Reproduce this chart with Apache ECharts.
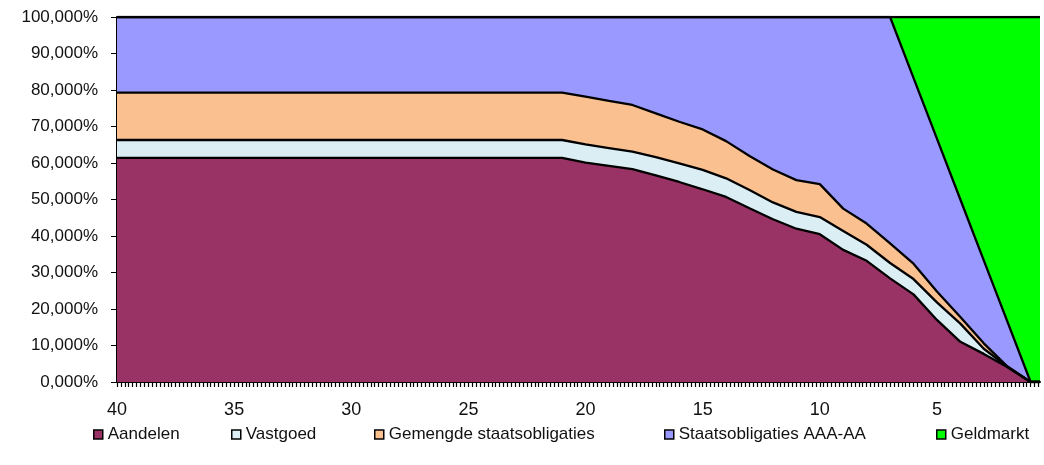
<!DOCTYPE html>
<html>
<head>
<meta charset="utf-8">
<script src="https://cdn.jsdelivr.net/npm/echarts@6.0.0/dist/echarts.min.js"></script>
<style>
  html, body { margin: 0; padding: 0; background: #fff; }
  #main { width: 1044px; height: 465px; }
</style>
</head>
<body>
<div id="main"></div>
<script>
// years to go (x axis runs from 40 down)
var years     = [40, 21, 20, 19, 18, 17, 16, 15, 14, 13, 12, 11, 10, 9, 8, 7, 6, 5, 4, 3, 2, 1, 0.6];
var aandelen  = [61.4, 61.4, 60.1, 59.2, 58.3, 56.6, 54.8, 52.8, 50.7, 47.6, 44.6, 42.0, 40.5, 36.2, 33.2, 28.4, 24.0, 17.0, 11.0, 7.7, 4.1, 0, 0];
var vastgoed  = [4.9, 4.9, 5.0, 4.9, 4.8, 5.0, 5.1, 5.3, 5.1, 5.0, 4.6, 4.6, 4.7, 5.2, 4.4, 4.2, 4.2, 4.8, 5.0, 1.4, 0.1, 0, 0];
var gemengde  = [13.0, 13.0, 13.1, 12.9, 12.8, 12.0, 11.4, 11.1, 10.2, 9.3, 9.0, 8.7, 9.0, 6.1, 5.8, 5.4, 4.2, 3.0, 1.8, 1.5, 0.1, 0, 0];
var staats    = [20.7, 20.7, 21.8, 23.0, 24.1, 26.4, 28.7, 30.8, 34.0, 38.1, 41.8, 44.7, 45.8, 52.5, 56.6, 62.0, 50.9, 41.9, 32.2, 22.7, 12.4, 0, 0];
var geldmarkt = [0, 0, 0, 0, 0, 0, 0, 0, 0, 0, 0, 0, 0, 0, 0, 0, 16.7, 33.3, 50.0, 66.7, 83.3, 100, 100];

var names  = ['Aandelen', 'Vastgoed', 'Gemengde staatsobligaties', 'Staatsobligaties AAA-AA', 'Geldmarkt'];
var colors = ['#993366', '#DAEEF3', '#FAC090', '#9999FF', '#00FF00'];
var xLabels = [40, 35, 30, 25, 20, 15, 10, 5];

// tick marks every two months
var xTicks = [];
for (var t = 240; t >= 4; t--) {
    xTicks.push(t / 6);
}

// value first so that the stack goes on the percentage, year second
function pairs(vals){
    var out = [];
    for (var i = 0; i < years.length; i++) {
        out.push([vals[i], years[i]]);
    }
    return out;
}

var dom = document.getElementById("main");
var myChart = echarts.init(dom, null, {renderer: 'canvas'});
var font = 'Liberation Sans, Arial, sans-serif';
var allData = [aandelen, vastgoed, gemengde, staats, geldmarkt];
var legendLeft = [88, 226, 369, 659, 931];

var series = [];
var legends = [];
for (var k = 0; k < names.length; k++) {
    series.push({
        name: names[k],
        type: 'line',
        stack: 'total',
        symbol: 'none',
        encode: { x: 1, y: 0 },
        lineStyle: { color: '#000', width: 2.3 },
        itemStyle: { color: colors[k], borderColor: '#000', borderWidth: 1 },
        areaStyle: { color: colors[k], opacity: 1 },
        data: pairs(allData[k])
    });
    legends.push({
        top: 421,
        left: legendLeft[k],
        icon: 'rect',
        itemWidth: 9,
        itemHeight: 9,
        itemStyle: { borderColor: '#000', borderWidth: 1.5 },
        textStyle: { fontFamily: font, fontSize: 17, color: '#111' },
        data: [names[k]]
    });
}

var option = {
    animation: false,
    grid: { left: 117, right: 4, top: 17, bottom: 83 },
    legend: legends,
    xAxis: {
        type: 'value',
        inverse: true,
        min: 0.6,
        max: 40,
        axisLine: { lineStyle: { color: '#000', width: 2 } },
        axisTick: { customValues: xTicks, length: 5, lineStyle: { color: '#000', width: 1.2 } },
        axisLabel: {
            customValues: xLabels,
            margin: 19,
            fontFamily: font,
            fontSize: 18,
            color: '#111'
        },
        splitLine: { show: false }
    },
    yAxis: {
        type: 'value',
        min: 0,
        max: 100,
        interval: 10,
        axisLine: { show: true, lineStyle: { color: '#000', width: 2 } },
        axisTick: { show: true, length: 6, lineStyle: { color: '#000' } },
        axisLabel: {
            margin: 19,
            fontFamily: font,
            fontSize: 17,
            color: '#111',
            formatter: function(v){ return v + ',000%'; }
        },
        splitLine: { show: false }
    },
    series: series
};
myChart.setOption(option, true);
</script>
</body>
</html>
